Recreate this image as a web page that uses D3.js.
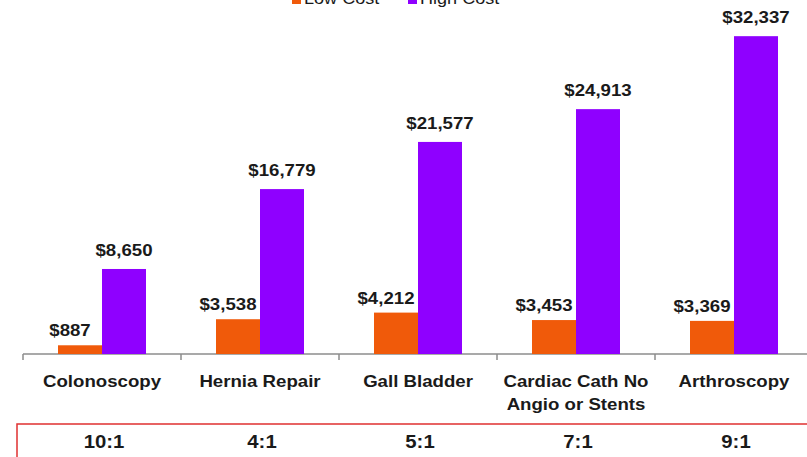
<!DOCTYPE html>
<html>
<head>
<meta charset="utf-8">
<script src="https://cdn.jsdelivr.net/npm/d3@7"></script>
<style>
  body { margin: 0; background: #fff; }
  svg { display: block; font-family: Arial, "Liberation Sans", sans-serif; }
</style>
</head>
<body>
<div class="chart"></div>
<script>
// procedure cost ranges, low vs high
const procedures = ["Colonoscopy", "Hernia Repair", "Gall Bladder", "Cardiac Cath No|Angio or Stents", "Arthroscopy"]
const lowCost = [887, 3538, 4212, 3453, 3369]
const highCost = [8650, 16779, 21577, 24913, 32337]
const ratios = ["10:1", "4:1", "5:1", "7:1", "9:1"]
const seriesNames = ["Low Cost", "High Cost"]
const colors = ["#F05A0A", "#8F00FF"]

const width = 807
const height = 457
const baseline = 354
const stretch = 1.13  // source picture text is a bit wide

const svg = d3.select('.chart').append('svg')
    .attr("width", width)
    .attr("height", height)

const x = d3.scaleBand()
    .domain(procedures)
    .range([23, 813])
    .paddingInner(0)
    .paddingOuter(0)

const y = d3.scaleLinear()
    .domain([0, 35000])
    .range([baseline, 10])

const barW = 44
const fmt = d3.format("$,")

// axis line + ticks
const axis = svg.append("g").attr("transform", `translate(0,${baseline})`)
axis.append("line")
    .attr("x1", x.range()[0]).attr("x2", width)
    .attr("stroke", "#8c8c8c").attr("stroke-width", 1.5)
axis.selectAll(".tk")
    .data(procedures)
    .join("line")
    .attr("x1", d => x(d)).attr("x2", d => x(d))
    .attr("y1", 0).attr("y2", 6)
    .attr("stroke", "#8c8c8c").attr("stroke-width", 1.5)

const series = [lowCost, highCost]
series.forEach((vals, si) => {
    const g = svg.append("g")
    g.selectAll("rect")
        .data(vals)
        .join("rect")
        .attr("x", (d, i) => x(procedures[i]) + x.bandwidth() / 2 - barW + si * barW)
        .attr("y", d => y(d))
        .attr("width", barW)
        .attr("height", d => baseline - y(d))
        .attr("fill", colors[si])
    g.selectAll("text")
        .data(vals)
        .join("text")
        .attr("transform", (d, i) => {
            const cx = x(procedures[i]) + x.bandwidth() / 2 - barW / 2 + si * barW - (si === 0 ? 10 : 0)
            return `translate(${cx},${y(d) - (si === 0 ? 9 : 13)}) scale(${stretch},1)`
        })
        .attr("text-anchor", "middle")
        .attr("font-size", 16.5)
        .attr("font-weight", "bold")
        .attr("fill", "#1a1a1a")
        .text(d => fmt(d))
})

// category labels
svg.append("g").selectAll("text")
    .data(procedures)
    .join("text")
    .attr("transform", d => `translate(${x(d) + x.bandwidth() / 2},387) scale(${stretch},1)`)
    .attr("text-anchor", "middle")
    .attr("font-size", 16.5)
    .attr("font-weight", "bold")
    .attr("fill", "#1a1a1a")
    .selectAll("tspan")
    .data(d => d.split("|"))
    .join("tspan")
    .attr("x", 0)
    .attr("dy", (d, i) => i === 0 ? 0 : 23)
    .text(d => d)

// ratio box
svg.append("rect")
    .attr("x", 17).attr("y", 424)
    .attr("width", width).attr("height", 60)
    .attr("fill", "none")
    .attr("stroke", "#e03030").attr("stroke-width", 1.5)

svg.append("g").selectAll("text")
    .data(ratios)
    .join("text")
    .attr("transform", (d, i) => `translate(${x(procedures[i]) + x.bandwidth() / 2 + 2},448) scale(${stretch},1)`)
    .attr("text-anchor", "middle")
    .attr("font-size", 18)
    .attr("font-weight", "bold")
    .attr("fill", "#1a1a1a")
    .text(d => d)

// legend, mostly cropped off the top
const leg = svg.append("g")
const legX = [292, 408]
seriesNames.forEach((name, i) => {
    leg.append("rect")
        .attr("x", legX[i]).attr("y", -6)
        .attr("width", 9).attr("height", 10)
        .attr("fill", colors[i])
    leg.append("text")
        .attr("transform", `translate(${legX[i] + 12},4) scale(${stretch},1)`)
        .attr("font-size", 16)
        .attr("fill", "#1a1a1a")
        .text(name)
})
</script>
</body>
</html>
